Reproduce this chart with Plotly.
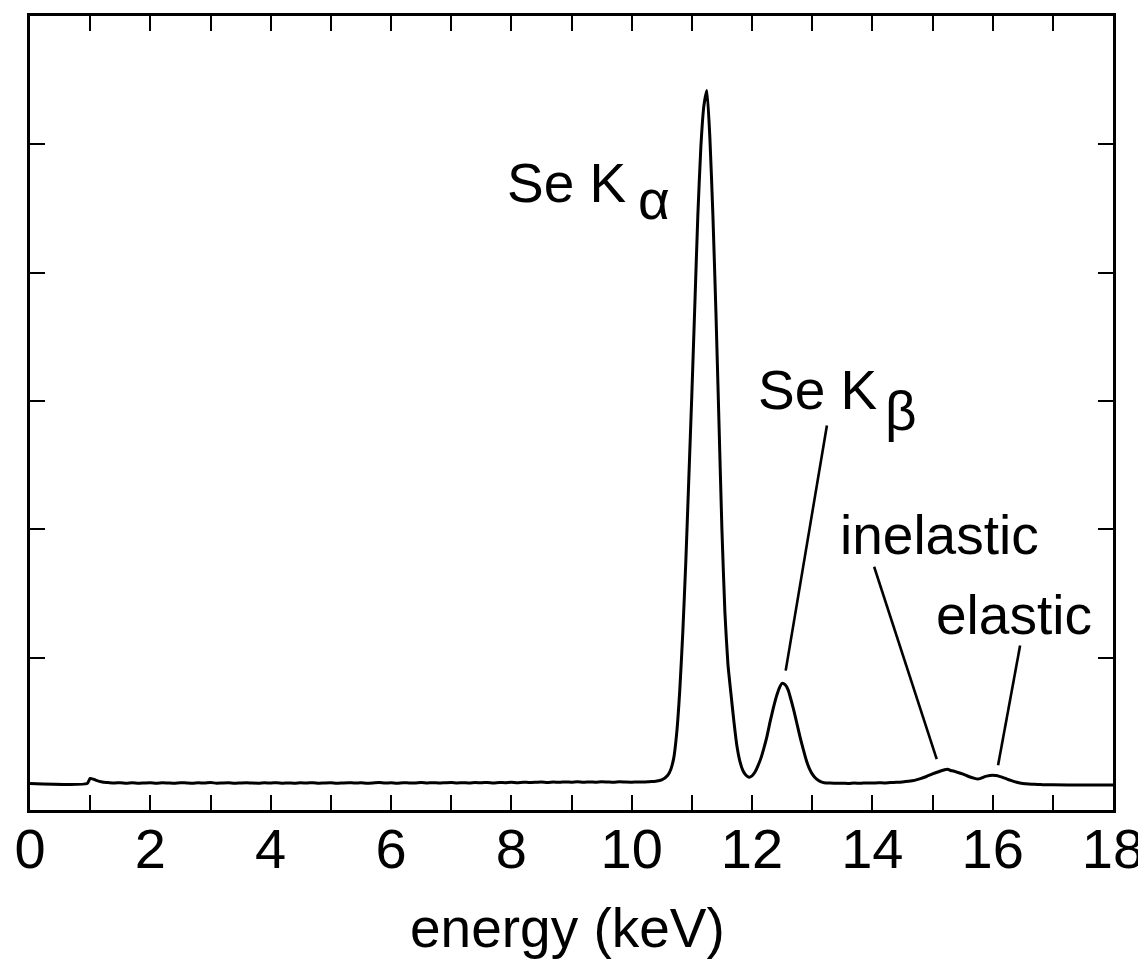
import plotly.graph_objects as go

# ---- data (energy in keV, intensity in tick units) ----
energy_kev = [
    0.0, 0.95, 1.0, 1.05, 1.1, 1.2, 1.3,
    1.4, 1.5, 1.6, 1.7, 1.8, 1.9, 2.0, 2.1, 2.2, 2.3, 2.4, 2.5, 2.6, 2.7, 2.8, 2.9,
    3.0, 3.1, 3.2, 3.3, 3.4, 3.5, 3.6, 3.7, 3.8, 3.9, 4.0, 4.1, 4.2, 4.3, 4.4, 4.5,
    4.6, 4.7, 4.8, 4.9, 5.0, 5.1, 5.2, 5.3, 5.4, 5.5, 5.6, 5.7, 5.8, 5.9, 6.0, 6.1,
    6.2, 6.3, 6.4, 6.5, 6.6, 6.7, 6.8, 6.9, 7.0, 7.1, 7.2, 7.3, 7.4, 7.5, 7.6, 7.7,
    7.8, 7.9, 8.0, 8.1, 8.2, 8.3, 8.4, 8.5, 8.6, 8.7, 8.8, 8.9, 9.0, 9.1, 9.2, 9.3,
    9.4, 9.5, 9.6, 9.7, 9.8, 9.9, 10.0, 10.1, 10.2, 10.3, 10.4, 10.5, 10.6, 10.65,
    10.7, 10.75, 10.8, 10.85, 10.9, 10.95, 11.0, 11.05, 11.1, 11.15, 11.2, 11.25,
    11.3, 11.35, 11.4, 11.45, 11.5, 11.55, 11.6, 11.65, 11.7, 11.75, 11.8, 11.85,
    11.9, 11.95, 12.0, 12.05, 12.1, 12.15, 12.2, 12.25, 12.3, 12.35, 12.4, 12.45,
    12.5, 12.55, 12.6, 12.65, 12.7, 12.75, 12.8, 12.85, 12.9, 12.95, 13.0, 13.05,
    13.1, 13.15, 13.2, 13.3, 13.4, 13.5, 13.6, 13.7, 13.8, 13.9, 14.0, 14.1, 14.2,
    14.3, 14.4, 14.5, 14.6, 14.7, 14.8, 14.9, 15.0, 15.1, 15.2, 15.25, 15.3, 15.35,
    15.4, 15.5, 15.6, 15.7, 15.75, 15.8, 15.85, 15.9, 16.0, 16.05, 16.1, 16.2, 16.3,
    16.4, 16.5, 16.6, 16.7, 16.8, 16.9, 17.0, 17.5, 18.0,
]
intensity = [
    0.020, 0.020, 0.060, 0.055, 0.045, 0.032, 0.028,
    0.024, 0.027, 0.023, 0.026, 0.022, 0.025, 0.027, 0.023, 0.026, 0.024, 0.022, 0.027, 0.025, 0.023, 0.026, 0.024,
    0.028, 0.023, 0.025, 0.026, 0.022, 0.025, 0.027, 0.024, 0.023, 0.026, 0.024, 0.027, 0.023, 0.025, 0.022, 0.026,
    0.024, 0.027, 0.023, 0.025, 0.026, 0.022, 0.025, 0.027, 0.024, 0.026, 0.023, 0.025, 0.028, 0.024, 0.026, 0.023,
    0.027, 0.025, 0.024, 0.028, 0.025, 0.027, 0.024, 0.026, 0.028, 0.025, 0.027, 0.024, 0.028, 0.026, 0.029, 0.025,
    0.028, 0.027, 0.030, 0.027, 0.031, 0.028, 0.030, 0.033, 0.029, 0.032, 0.030, 0.033, 0.031, 0.034, 0.030, 0.033,
    0.031, 0.034, 0.032, 0.030, 0.034, 0.032, 0.031, 0.033, 0.032, 0.035, 0.038, 0.048, 0.085, 0.13,
    0.22, 0.42, 0.75, 1.20, 1.75, 2.40, 3.05, 3.75, 4.45, 4.98, 5.30, 5.42,
    5.05, 4.45, 3.70, 2.85, 2.00, 1.35, 0.95, 0.72, 0.50, 0.31, 0.19, 0.12,
    0.085, 0.070, 0.080, 0.11, 0.16, 0.22, 0.30, 0.39, 0.50, 0.60, 0.69, 0.76,
    0.80, 0.79, 0.75, 0.67, 0.58, 0.48, 0.38, 0.29, 0.205, 0.14, 0.095, 0.065,
    0.045, 0.033, 0.027, 0.024, 0.022, 0.023, 0.021, 0.024, 0.022, 0.025, 0.024, 0.026, 0.025,
    0.028, 0.030, 0.033, 0.038, 0.045, 0.058, 0.075, 0.095, 0.112, 0.128, 0.132, 0.122, 0.118,
    0.110, 0.095, 0.075, 0.060, 0.055, 0.060, 0.070, 0.078, 0.085, 0.082, 0.078, 0.062, 0.045,
    0.030, 0.020, 0.016, 0.014, 0.012, 0.010, 0.010, 0.009, 0.008,
]

x_ticks = list(range(0, 19))
x_tick_text = [str(v) if v % 2 == 0 else "" for v in x_ticks]
y_ticks = [1, 2, 3, 4, 5]

# label texts and leader lines (start/end in data units)
labels = [
    ("Se K", 7.90, 4.70),
    ("α", 10.08, 4.567),
    ("Se K", 12.07, 3.083),
    ("β", 14.18, 2.92),
    ("inelastic", 13.43, 1.957),
    ("elastic", 15.02, 1.336),
]
leaders = [
    (13.245, 2.81, 12.56, 0.90),
    (14.03, 1.709, 15.07, 0.21),
    (16.456, 1.095, 16.09, 0.163),
]

FONT = "Liberation Sans, Arial, Helvetica, sans-serif"

fig = go.Figure()
fig.add_trace(go.Scatter(
    x=energy_kev, y=intensity, mode="lines",
    line=dict(color="black", width=3, shape="spline", smoothing=0.5),
    showlegend=False, hoverinfo="skip",
))

for (x0, y0, x1, y1) in leaders:
    fig.add_shape(type="line", xref="x", yref="y", x0=x0, y0=y0, x1=x1, y1=y1,
                  line=dict(color="black", width=2.6))

for (txt, x, y) in labels:
    fig.add_annotation(text=txt, x=x, y=y, xref="x", yref="y", xanchor="left",
                       yanchor="middle", showarrow=False,
                       font=dict(family=FONT, size=55, color="black"))

fig.add_annotation(text="energy (keV)", x=0.4963, y=-0.148, xref="paper", yref="paper",
                   xanchor="center", yanchor="middle", showarrow=False,
                   font=dict(family=FONT, size=55, color="black"))

fig.update_xaxes(
    range=[0, 18], tickmode="array", tickvals=x_ticks, ticktext=x_tick_text,
    ticks="inside", ticklen=15, tickwidth=2.2, tickcolor="black",
    showline=True, linewidth=3, linecolor="black", mirror="ticks",
    showgrid=False, zeroline=False, ticklabelstandoff=-12,
    ticklabeloverflow="allow",
    tickfont=dict(family=FONT, size=56, color="black"),
)
fig.update_yaxes(
    range=[-0.186, 6.0], tickmode="array", tickvals=y_ticks,
    ticks="inside", ticklen=15, tickwidth=2.2, tickcolor="black",
    showline=True, linewidth=3, linecolor="black", mirror="ticks",
    showgrid=False, zeroline=False, showticklabels=False,
)
# the page body keeps an 8 px margin, so left/top margins are 8 px smaller
fig.update_layout(
    width=1146, height=961,
    margin=dict(l=22, r=41, t=5, b=159, pad=0),
    plot_bgcolor="white", paper_bgcolor="white",
    font=dict(family=FONT, color="black"),
)

fig.write_html("out.html")
